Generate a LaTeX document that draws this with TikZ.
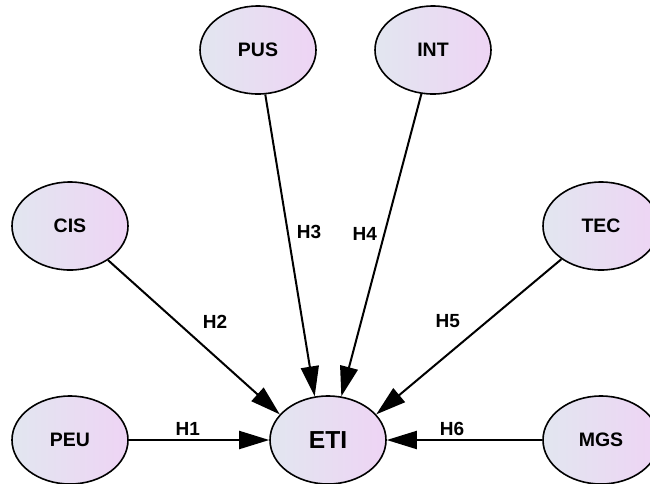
\documentclass[tikz,border=0pt]{standalone}
\usepackage{fontspec}
\setsansfont{Liberation Sans}
\usetikzlibrary{arrows.meta,shapes.geometric}
\definecolor{lvleft}{HTML}{E2E6F0}
\definecolor{lvright}{HTML}{EED4F4}

\begin{document}
\begin{tikzpicture}[auto,x=1pt,y=-1pt,
    latent/.style={draw,ellipse,line width=1.6pt,minimum width=116pt,minimum height=88pt,
      inner sep=0pt,left color=lvleft,right color=lvright,font=\fontsize{19.5}{22}\selectfont},
    hyp/.style={-{Triangle[length=30pt,width=18pt]},line width=2pt,font=\fontsize{19}{22}\selectfont}]
    \sffamily\bfseries
    \useasboundingbox (0,0) rectangle (650,483);
    \node[latent] (pus) at (258,50) {PUS};
    \node[latent] (int) at (433,50) {INT};
    \node[latent] (cis) at (70,226) {CIS};
    \node[latent] (tec) at (601,226) {TEC};
    \node[latent] (peu) at (70,440) {PEU};
    \node[latent,font=\fontsize{24.6}{28}\selectfont] (eti) at (328,440) {ETI};
    \node[latent] (mgs) at (601,440) {MGS};
    \draw[hyp] (peu) to node[pos=0.42] {H1} (eti);
    \draw[hyp] (cis) to node[inner sep=8pt] {H2} (eti.152);
    \draw[hyp] (pus) to node[inner sep=6pt] {H3} (eti.107);
    \draw[hyp] (int) to node[swap] {H4} (eti.73);
    \draw[hyp] (tec) to node[swap,inner sep=8pt] {H5} (eti.28);
    \draw[hyp] (mgs) to node[swap,pos=0.58] {H6} (eti);
  \end{tikzpicture}
\end{document}
